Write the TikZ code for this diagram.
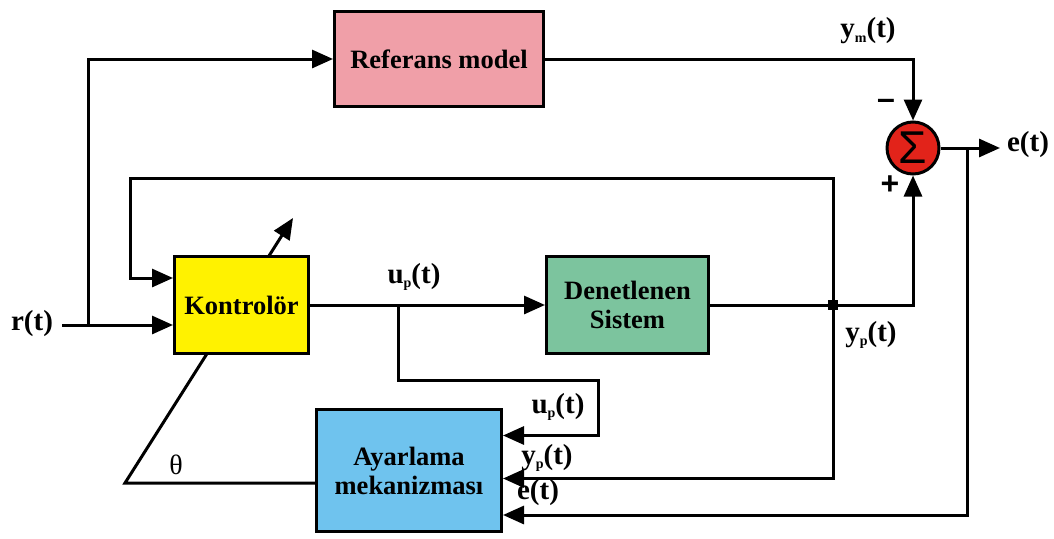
\documentclass[tikz,border=0pt]{standalone}
\usepackage{fontspec}
\setmainfont{Liberation Serif}
\newfontfamily\symfont{Liberation Sans}
\usetikzlibrary{arrows.meta,calc,backgrounds}
\definecolor{refpink}{HTML}{F09FA8}
\definecolor{ctrlyellow}{HTML}{FFF200}
\definecolor{plantgreen}{HTML}{7CC49E}
\definecolor{adaptblue}{HTML}{6FC3EE}
\definecolor{sumred}{HTML}{E2231A}
\newcommand{\lowidx}[1]{\raisebox{-0.35ex}{\fontsize{14}{14}\selectfont #1}}
\begin{document}
\begin{tikzpicture}[x=1pt,y=-1pt,
  blk/.style={draw,line width=3pt,inner sep=0pt,align=center,
    font=\bfseries\fontsize{26.5}{29}\selectfont},
  conn/.style={line width=3pt},
  arr/.style={conn,-{Triangle[length=21pt,width=18pt]}},
  lbl/.style={inner sep=0pt,font=\bfseries\fontsize{29}{31}\selectfont},
  sgn/.style={inner sep=0pt,font=\bfseries\fontsize{32}{32}\selectfont}]
\useasboundingbox (0,0) rectangle (1054,538);

% blocks
\node[blk,fill=refpink,minimum width=209pt,minimum height=95pt] (ref) at (439,59) {Referans model};
\node[blk,fill=ctrlyellow,minimum width=134pt,minimum height=97pt] (kont) at (241.5,305) {Kontrolör};
\node[blk,fill=plantgreen,minimum width=162pt,minimum height=97pt] (den) at (627.5,305) {Denetlenen\\Sistem};
\node[blk,fill=adaptblue,minimum width=185pt,minimum height=122pt] (ayar) at (409,470.5) {Ayarlama\\mekanizması};
\node[draw,line width=3pt,circle,fill=sumred,minimum size=52pt,inner sep=0pt,
  font=\symfont\fontsize{46}{46}\selectfont] (sum) at (913,148) {\raisebox{-0.55ex}{Σ}};

% junctions and free ends
\coordinate (rin) at (62,325);
\coordinate (jr) at (88,325);
\coordinate (eout) at (1000,148);
\coordinate (je) at (967,148);
\coordinate (eback) at (967,515);
\coordinate (jy) at (833,305);
\coordinate (ftop) at (130,178);
\coordinate (ju) at (398,305);
\coordinate (ubend) at (598,380);
\coordinate (thc) at (125,483);
\coordinate (tip) at (293,218);

% signal paths
\draw[arr] (rin) -- (kont.west |- rin);
\draw[arr] (jr) |- (ref.west);
\draw[arr] (ref.east) -| (sum.north);
\draw[arr] (sum.east) -- (eout);
\draw[arr] (je) -- (eback) -- (ayar.east |- eback);
\draw[arr] (den.east) -| (sum.south);
\draw[arr] (jy) |- (ftop) |- ($(kont.west)+(0,-27)$);
\draw[arr] (jy) |- ($(ayar.east)+(0,8)$);
\draw[arr] (kont.east) -- (den.west);
\draw[arr] (ju) |- (ubend) |- ($(ayar.east)+(0,-35)$);
\fill ($(jy)+(-5,-5)$) rectangle ($(jy)+(5,5)$);

% parameter adjustment line passing behind the controller
\begin{scope}[on background layer]
\draw[arr,line join=miter] ($(ayar.west)+(0,12.5)$) -- (thc) -- (tip);
\end{scope}

% labels
\node[lbl] at (32,324) {r(t)};
\node[lbl] at (868,31) {y\lowidx{m}(t)};
\node[lbl] at (1028,145) {e(t)};
\node[lbl] at (414,277) {u\lowidx{p}(t)};
\node[lbl] at (871,335) {y\lowidx{p}(t)};
\node[lbl] at (558,407) {u\lowidx{p}(t)};
\node[lbl] at (547,458) {y\lowidx{p}(t)};
\node[lbl] at (538,493) {e(t)};
\node[sgn] at (886,104) {\symfont\textendash};
\node[sgn] at (890,185) {\symfont +};
\node[inner sep=0pt,font=\fontsize{28}{29}\selectfont] at (176,465) {θ};
\end{tikzpicture}
\end{document}
